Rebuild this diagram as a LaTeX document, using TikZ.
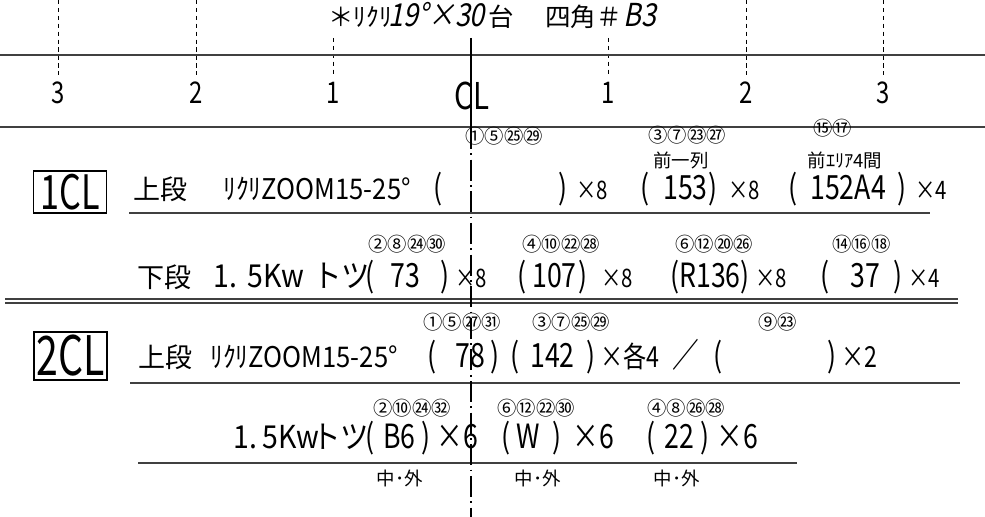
\documentclass[tikz,border=0pt]{standalone}
\usepackage{fontspec}
\usepackage{tikz}
\usetikzlibrary{positioning}
\newfontfamily\jp{Noto Sans CJK JP}
\newfontfamily\cnd[FakeStretch=0.8]{Noto Sans CJK JP}
\newfontfamily\cndw[FakeStretch=0.9]{Noto Sans CJK JP}
\newfontfamily\cndit[FakeStretch=0.85,FakeSlant=0.2]{Noto Sans CJK JP}
\newfontfamily\tagf[FakeStretch=0.72]{Noto Sans CJK JP}
\tikzstyle{tx} = [anchor=base west, inner sep=0pt]
\tikzstyle{num} = [tx, font=\cnd\fontsize{19}{20}\selectfont]
\tikzstyle{txt} = [tx, font=\cndw\fontsize{16.2}{17}\selectfont]
\tikzstyle{txtb} = [tx, font=\cndw\fontsize{18}{19}\selectfont]
\tikzstyle{kanji} = [tx, font=\jp\fontsize{15.4}{16}\selectfont]
\tikzstyle{mult} = [tx, font=\cnd\fontsize{14.5}{15}\selectfont]
\tikzstyle{multb} = [tx, font=\cnd\fontsize{16.5}{17}\selectfont]
\tikzstyle{circ} = [anchor=west, inner sep=0pt, font=\jp\fontsize{11}{12}\selectfont]
\tikzstyle{note} = [inner sep=0pt, font=\jp\fontsize{10.5}{11}\selectfont]
\tikzstyle{ruler} = [inner sep=0pt, font=\cnd\fontsize{17}{18}\selectfont]
\tikzstyle{ttl} = [tx, font=\jp\fontsize{14.5}{15}\selectfont]
\tikzstyle{ttlit} = [tx, font=\cndit\fontsize{18}{19}\selectfont]
\tikzstyle{tag} = [draw, line width=0.6pt, inner sep=0pt, minimum width=1.46cm]
\tikzstyle{line} = [draw, line width=0.8pt, black!75]
\tikzstyle{tick} = [draw, line width=0.5pt, dash pattern=on 2.5pt off 2pt]
\tikzstyle{cline} = [draw, line width=0.7pt, dash pattern=on 12pt off 2.5pt on 1pt off 2.5pt]

\begin{document}
\begin{tikzpicture}[x=0.02cm, y=-0.02cm]
	\useasboundingbox (0,0) rectangle (985,517);

	% title
	\node [ttl] (tl1) at (328,27) {＊ﾘｸﾘ};
	\node [ttlit] (tl2) at (388,27) {19°×30};
	\node [ttl] (tl3) at (488,27) {台};
	\node [ttl] (tl4) at (545,27) {四角＃};
	\node [ttlit] (tl5) at (623,27) {B3};

	% ruler
	\path [tick] (58,0) -- (58,75);
	\path [tick] (196,0) -- (196,75);
	\path [tick] (333,38) -- (333,75);
	\path [tick] (608,38) -- (608,75);
	\path [tick] (746,0) -- (746,75);
	\path [tick] (883,0) -- (883,75);
	\node [ruler] (l3) at (58,93) {3};
	\node [ruler] (l2) at (196,93) {2};
	\node [ruler] (l1) at (333,93) {1};
	\node [ruler, font=\cnd\fontsize{21}{22}\selectfont] (cl) at (472,96) {CL};
	\node [ruler] (r1) at (608,93) {1};
	\node [ruler] (r2) at (746,93) {2};
	\node [ruler] (r3) at (883,93) {3};

	\path [line, line width=1.2pt] (0,55) -- (985,55);
	\path [line] (0,127) -- (985,127);
	\path [line] (129,213) -- (930,213);
	\path [line] (5,299) -- (958,299);
	\path [line] (5,303) -- (958,303);
	\path [line] (130,383) -- (960,383);
	\path [line] (138,463) -- (797,463);
	\path [draw, line width=0.7pt] (471,38) -- (471,128);
	\path [cline] (471,128) -- (471,517);

	% 1CL upper
	\node [tag, minimum height=0.84cm, font=\tagf\fontsize{27}{28}\selectfont] (tag1) at (70,192) {1CL};
	\node [kanji] (a1) at (133,200) {上段};
	\node [txt] (a2) at (223,200) {ﾘｸﾘZOOM15-25°};
	\node [num] (a3) at (433,200) {(};
	\node [num] (a4) at (558,200) {)};
	\node [mult] (a5) at (576,200) {×8};
	\node [num] (a6) at (640,200) {(};
	\node [num] (a7) at (663,200) {153};
	\node [num] (a8) at (708,200) {)};
	\node [mult] (a9) at (728,200) {×8};
	\node [num] (a10) at (788,200) {(};
	\node [num] (a11) at (810,200) {152A4};
	\node [num] (a12) at (897,200) {)};
	\node [mult] (a13) at (915,200) {×4};
	\node [circ] (ca1) at (465,136) {①⑤㉕㉙};
	\node [circ] (ca2) at (648,135) {③⑦㉓㉗};
	\node [circ] (ca3) at (813,128) {⑮⑰};
	\node [note] (na1) at (681,160) {前一列};
	\node [note] (na2) at (845,160) {前ｴﾘｱ4間};

	% 1CL lower
	\node [kanji] (b1) at (137,288) {下段};
	\node [txtb] (b2) at (213,288) {1.\,\,5Kw};
	\node [txtb] (b3) at (313,288) {トツ};
	\node [num] (b4) at (365,288) {(};
	\node [num] (b5) at (390,288) {73};
	\node [num] (b6) at (440,288) {)};
	\node [mult] (b7) at (455,288) {×8};
	\node [num] (b8) at (517,288) {(};
	\node [num] (b9) at (532,288) {107};
	\node [num] (b10) at (578,288) {)};
	\node [mult] (b11) at (601,288) {×8};
	\node [num] (b12) at (670,288) {(R136)};
	\node [mult] (b13) at (755,288) {×8};
	\node [num] (b14) at (820,288) {(};
	\node [num] (b15) at (850,288) {37};
	\node [num] (b16) at (893,288) {)};
	\node [mult] (b17) at (908,288) {×4};
	\node [circ] (cb1) at (368,244) {②⑧㉔㉚};
	\node [circ] (cb2) at (522,244) {④⑩㉒㉘};
	\node [circ] (cb3) at (675,244) {⑥⑫⑳㉖};
	\node [circ] (cb4) at (832,244) {⑭⑯⑱};

	% 2CL upper
	\node [tag, minimum height=0.96cm, font=\tagf\fontsize{31}{32}\selectfont] (tag2) at (70.5,356) {2CL};
	\node [kanji] (c1) at (138,367) {上段};
	\node [txt] (c2) at (210,367) {ﾘｸﾘZOOM15-25°};
	\node [num] (c3) at (427,367) {(};
	\node [num] (c4) at (455,367) {78};
	\node [num] (c5) at (490,367) {)};
	\node [num] (c6) at (510,367) {(};
	\node [num] (c7) at (530,367) {142};
	\node [num] (c8) at (586,367) {)};
	\node [multb] (c9) at (600,367) {×各4};
	\node [num] (c10) at (672,367) {／};
	\node [num] (c11) at (713,367) {(};
	\node [num] (c12) at (827,367) {)};
	\node [multb] (c13) at (841,367) {×2};
	\node [circ] (cc1) at (423,322) {①⑤㉗㉛};
	\node [circ] (cc2) at (532,322) {③⑦㉕㉙};
	\node [circ] (cc3) at (758,322) {⑨㉓};

	% 2CL lower
	\node [txtb] (d1) at (233,448) {1.\,5Kw};
	\node [txtb] (d2) at (312,448) {トツ};
	\node [num] (d3) at (365,448) {(};
	\node [num] (d4) at (383,448) {B6};
	\node [num] (d5) at (421,448) {)};
	\node [num] (d6) at (436,448) {×6};
	\node [num] (d7) at (501,448) {(};
	\node [num] (d8) at (516,448) {W};
	\node [num] (d9) at (552,448) {)};
	\node [num] (d10) at (572,448) {×6};
	\node [num] (d11) at (646,448) {(};
	\node [num] (d12) at (664,448) {22};
	\node [num] (d13) at (700,448) {)};
	\node [num] (d14) at (716,448) {×6};
	\node [circ] (cd1) at (373,408) {②⑩㉔㉜};
	\node [circ] (cd2) at (497,408) {⑥⑫㉒㉚};
	\node [circ] (cd3) at (647,408) {④⑧㉖㉘};
	\node [note] (nd1) at (400,478) {中･外};
	\node [note] (nd2) at (538,478) {中･外};
	\node [note] (nd3) at (677,478) {中･外};
\end{tikzpicture}
\end{document}
